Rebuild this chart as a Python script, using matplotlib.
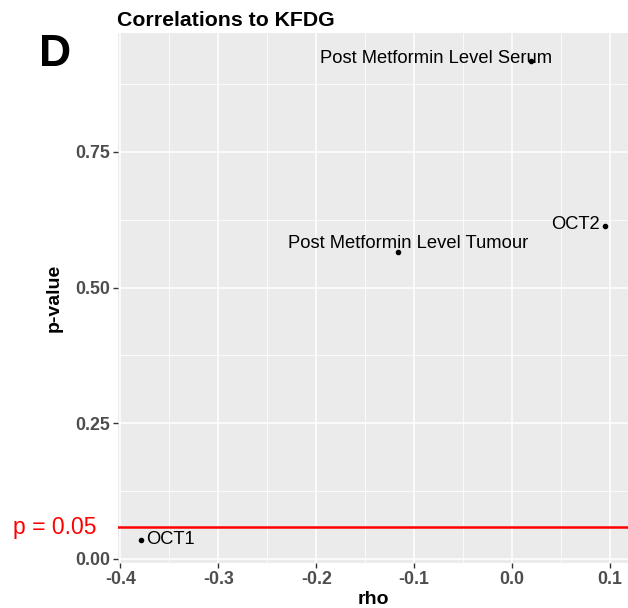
import matplotlib
matplotlib.use("Agg")
import matplotlib.pyplot as plt
import matplotlib.transforms as mtransforms
from matplotlib.ticker import MultipleLocator

plt.rcParams['font.family'] = ['Liberation Sans', 'DejaVu Sans']

# ── data ──────────────────────────────────────────────────────
labels = ["OCT1", "Post Metformin Level Tumour", "OCT2", "Post Metformin Level Serum"]
rho = [-0.379, -0.116, 0.095, 0.019]
pval = [0.035, 0.565, 0.614, 0.918]
label_ha = ["left", "center", "right", "right"]
label_dx = [0.005, 0.010, -0.005, 0.022]
label_dy = [0.0, 0.017, 0.002, 0.003]
p_line = 0.059
p_text = "p = 0.05"

# ── plotting ──────────────────────────────────────────────────
fig = plt.figure(figsize=(6.28, 6.08), dpi=100)
ax = fig.add_axes([0.1879, 0.074, 0.8121, 0.871])
ax.set_facecolor("#EBEBEB")

ax.set_xlim(-0.4025, 0.1185)
ax.set_ylim(-0.0074, 0.968)
ax.xaxis.set_major_locator(MultipleLocator(0.1))
ax.xaxis.set_minor_locator(MultipleLocator(0.05))
ax.yaxis.set_major_locator(MultipleLocator(0.25))
ax.yaxis.set_minor_locator(MultipleLocator(0.125))
ax.grid(True, which="major", color="white", linewidth=1.1)
ax.grid(True, which="minor", color="white", linewidth=0.55)
ax.set_axisbelow(True)
for s in ax.spines.values():
    s.set_visible(False)

ax.tick_params(which="major", length=3.5, width=1, color="#333333",
               labelsize=12.8, labelcolor="#4D4D4D", pad=2)
ax.tick_params(which="minor", length=0)
ax.set_xticks([-0.4, -0.3, -0.2, -0.1, 0.0, 0.1])
ax.set_xticklabels(["-0.4", "-0.3", "-0.2", "-0.1", "0.0", "0.1"])
ax.set_yticks([0.0, 0.25, 0.5, 0.75])
ax.set_yticklabels(["0.00", "0.25", "0.50", "0.75"])
for t in ax.get_xticklabels() + ax.get_yticklabels():
    t.set_fontweight("bold")

ax.scatter(rho, pval, s=9, color="black", zorder=3)
for lab, x, y, ha, dx, dy in zip(labels, rho, pval, label_ha, label_dx, label_dy):
    ax.text(x + dx, y + dy, lab, ha=ha, va="center", fontsize=13.2, color="black")

ax.axhline(p_line, color="red", linewidth=1.8, zorder=2)
# red label sits at the figure's left edge, level with the line
fig_left_data_y = mtransforms.blended_transform_factory(fig.transFigure, ax.transData)
ax.text(0.02, p_line - 0.0015, p_text, transform=fig_left_data_y,
        color="red", fontsize=16.5, ha="left", va="center", clip_on=False)

ax.set_xlabel("rho", fontsize=14, fontweight="bold")
ax.set_ylabel("p-value", fontsize=14, fontweight="bold")
ax.xaxis.set_label_coords(0.5, -0.052)
ax.yaxis.set_label_coords(-0.108, 0.5)
fig.text(0.1865, 0.967, "Correlations to KFDG", fontsize=15.3,
         fontweight="bold", ha="left", va="center")
fig.text(0.0875, 0.911, "D", fontsize=32, fontweight="bold", ha="center", va="center")

fig.savefig("out.png", dpi=100)
